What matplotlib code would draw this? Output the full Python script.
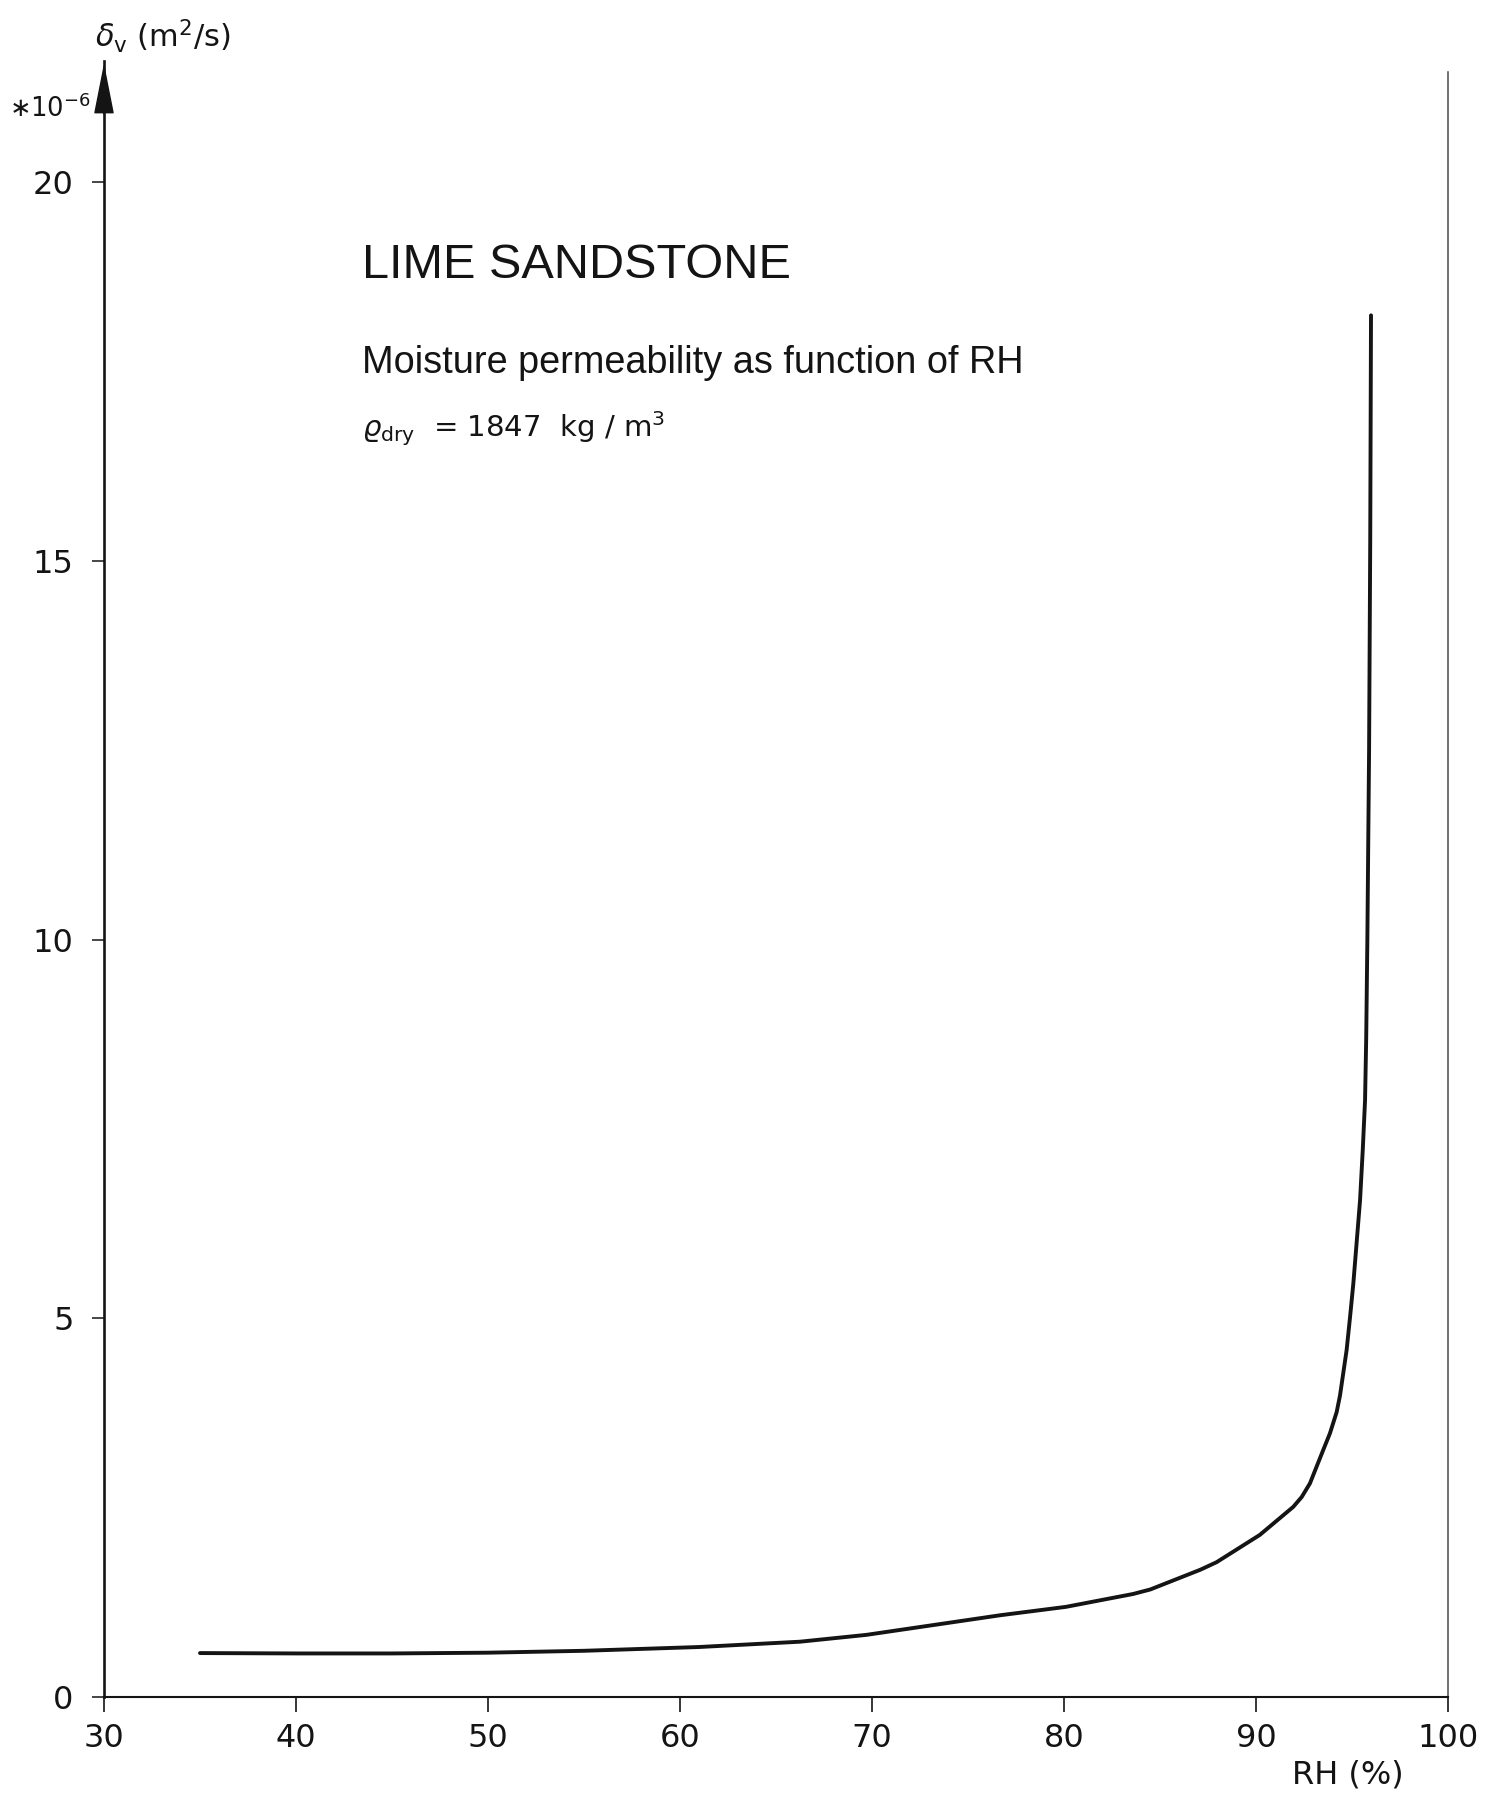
import matplotlib
matplotlib.use("Agg")
import matplotlib.pyplot as plt

# Moisture permeability of lime sandstone vs relative humidity
rh = [35.0, 40.0, 45.0, 50.0, 55.0, 61.0, 66.25, 69.7, 73.2, 76.7, 80.1,
      83.6, 84.5, 87.1, 87.95, 90.2, 91.94, 92.38, 92.81, 93.5, 93.85, 94.2,
      94.375, 94.72, 94.9, 95.07, 95.21, 95.42, 95.56, 95.68, 95.74, 95.80,
      95.89, 95.95, 95.99]
delta_v = [0.58, 0.575, 0.575, 0.585, 0.61, 0.66, 0.73, 0.82, 0.95, 1.08, 1.19,
           1.36, 1.42, 1.68, 1.78, 2.14, 2.51, 2.64, 2.82, 3.26, 3.48, 3.76,
           3.98, 4.58, 5.02, 5.46, 5.90, 6.56, 7.22, 7.88, 8.7, 10.0,
           12.5, 15.3, 18.24]

x_ticks = [30, 40, 50, 60, 70, 80, 90, 100]
y_ticks = [0, 5, 10, 15, 20]

W, H = 1487, 1796
fig = plt.figure(figsize=(W / 100, H / 100), dpi=100)
fig.patch.set_facecolor("white")

def fx(px):
    return px / W

def fy(py):
    return 1 - py / H

ax = fig.add_axes([fx(104), fy(1697), 1344 / W, (1697 - 60.8) / H])
ax.set_xlim(30, 100)
ax.set_ylim(0, 21.6)

ink = "#141414"
for side in ("top", "right"):
    ax.spines[side].set_visible(False)
ax.spines["left"].set_linewidth(1.9)
ax.spines["bottom"].set_linewidth(1.5)
ax.spines["left"].set_color(ink)
ax.spines["bottom"].set_color(ink)

tick_font = dict(family="DejaVu Sans", size=23)
ax.set_xticks(x_ticks)
ax.set_yticks(y_ticks)
ax.set_xticklabels([str(t) for t in x_ticks], fontdict=tick_font, color=ink)
ax.set_yticklabels([str(t) for t in y_ticks], fontdict=tick_font, color=ink)
ax.tick_params(axis="x", direction="out", length=10.8, width=1.2, pad=8, colors=ink)
ax.tick_params(axis="y", direction="out", length=9, width=1.1, pad=13, colors=ink)

# thin right-hand border at 100 %
ax.plot([100, 100], [0, 21.45], color="#4a4a4a", linewidth=1.1, clip_on=False)

# permeability curve
ax.plot(rh, delta_v, color=ink, linewidth=2.8, solid_capstyle="round",
        solid_joinstyle="round")

# arrow head on the vertical axis
ax.annotate("", xy=(30, 21.52), xytext=(30, 20.9), xycoords="data",
            annotation_clip=False,
            arrowprops=dict(facecolor=ink, edgecolor=ink, width=0.1,
                            headwidth=13, headlength=33, shrink=0))

# axis labels
plt.rcParams["mathtext.fontset"] = "dejavusans"
fig.text(fx(95), fy(47), r"$\delta_{\mathrm{v}}$ (m$^2$/s)", fontsize=22,
         family="DejaVu Sans", color=ink, ha="left", va="baseline")
fig.text(fx(9), fy(117), "\u221710$^{-6}$", fontsize=18.5,
         family="DejaVu Sans", color=ink, ha="left", va="baseline")
fig.text(fx(1292), fy(1783), "RH (%)", fontsize=23,
         family="DejaVu Sans", color=ink, ha="left", va="baseline")

# annotation block
fig.text(fx(362), fy(278), "LIME SANDSTONE", fontsize=35,
         family="Liberation Sans", color=ink, ha="left", va="baseline")
fig.text(fx(362), fy(373), "Moisture permeability as function of RH", fontsize=27.3,
         family="Liberation Sans", color=ink, ha="left", va="baseline")
fig.text(fx(362), fy(437), r"$\varrho_{\mathrm{dry}}$  = 1847  kg / m$^3$", fontsize=21,
         family="DejaVu Sans", color=ink, ha="left", va="baseline")

fig.savefig("out.png", dpi=100, facecolor="white")
